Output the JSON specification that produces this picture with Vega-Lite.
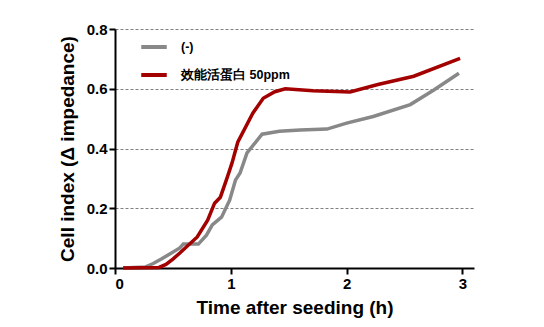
{
  "$schema": "https://vega.github.io/schema/vega-lite/v6.json",
  "width": 359,
  "height": 239,
  "autosize": {"type": "none"},
  "padding": {"left": 115, "top": 29, "right": 70, "bottom": 59},
  "background": "white",
  "config": {
    "view": {"stroke": null},
    "font": "Liberation Sans"
  },
  "data": {
    "values": [
      {"s": "(-)", "t": 0.07, "v": 0.0},
      {"s": "(-)", "t": 0.26, "v": 0.003},
      {"s": "(-)", "t": 0.33, "v": 0.015},
      {"s": "(-)", "t": 0.4, "v": 0.03},
      {"s": "(-)", "t": 0.56, "v": 0.067},
      {"s": "(-)", "t": 0.59, "v": 0.08},
      {"s": "(-)", "t": 0.72, "v": 0.08},
      {"s": "(-)", "t": 0.79, "v": 0.11},
      {"s": "(-)", "t": 0.84, "v": 0.144},
      {"s": "(-)", "t": 0.92, "v": 0.17},
      {"s": "(-)", "t": 0.99, "v": 0.227},
      {"s": "(-)", "t": 1.04, "v": 0.294},
      {"s": "(-)", "t": 1.08, "v": 0.318},
      {"s": "(-)", "t": 1.14, "v": 0.385},
      {"s": "(-)", "t": 1.27, "v": 0.448},
      {"s": "(-)", "t": 1.42, "v": 0.458},
      {"s": "(-)", "t": 1.6, "v": 0.462},
      {"s": "(-)", "t": 1.83, "v": 0.465},
      {"s": "(-)", "t": 2.0, "v": 0.485},
      {"s": "(-)", "t": 2.23, "v": 0.507},
      {"s": "(-)", "t": 2.55, "v": 0.547},
      {"s": "(-)", "t": 2.75, "v": 0.595},
      {"s": "(-)", "t": 2.97, "v": 0.652},
      {"s": "效能活蛋白 50ppm", "t": 0.07, "v": 0.0},
      {"s": "效能活蛋白 50ppm", "t": 0.38, "v": 0.002},
      {"s": "效能活蛋白 50ppm", "t": 0.44, "v": 0.012},
      {"s": "效能活蛋白 50ppm", "t": 0.5, "v": 0.03},
      {"s": "效能活蛋白 50ppm", "t": 0.56, "v": 0.05},
      {"s": "效能活蛋白 50ppm", "t": 0.71, "v": 0.104},
      {"s": "效能活蛋白 50ppm", "t": 0.8, "v": 0.16},
      {"s": "效能活蛋白 50ppm", "t": 0.86, "v": 0.217},
      {"s": "效能活蛋白 50ppm", "t": 0.91, "v": 0.237},
      {"s": "效能活蛋白 50ppm", "t": 0.97, "v": 0.304},
      {"s": "效能活蛋白 50ppm", "t": 1.01, "v": 0.351},
      {"s": "效能活蛋白 50ppm", "t": 1.06, "v": 0.421},
      {"s": "效能活蛋白 50ppm", "t": 1.19, "v": 0.518},
      {"s": "效能活蛋白 50ppm", "t": 1.28, "v": 0.568},
      {"s": "效能活蛋白 50ppm", "t": 1.38, "v": 0.59},
      {"s": "效能活蛋白 50ppm", "t": 1.47, "v": 0.6},
      {"s": "效能活蛋白 50ppm", "t": 1.71, "v": 0.593},
      {"s": "效能活蛋白 50ppm", "t": 2.03, "v": 0.589},
      {"s": "效能活蛋白 50ppm", "t": 2.27, "v": 0.614},
      {"s": "效能活蛋白 50ppm", "t": 2.58, "v": 0.642},
      {"s": "效能活蛋白 50ppm", "t": 2.98, "v": 0.702}
    ]
  },
  "mark": {"type": "line", "strokeWidth": 3.5, "interpolate": "linear", "clip": false},
  "encoding": {
    "x": {
      "field": "t", "type": "quantitative",
      "scale": {"domain": [0, 3.1], "nice": false, "zero": true},
      "axis": {
        "title": "Time after seeding (h)",
        "values": [0, 1, 2, 3],
        "format": "d",
        "grid": false,
        "domainColor": "black", "domainWidth": 2,
        "tickColor": "black", "tickWidth": 2, "tickSize": 6,
        "labelFont": "Liberation Sans", "labelFontWeight": "bold", "labelFontSize": 15, "labelColor": "black",
        "labelPadding": 2,
        "titleFont": "Liberation Sans", "titleFontWeight": "bold", "titleFontSize": 19, "titleColor": "black",
        "titlePadding": 7
      }
    },
    "y": {
      "field": "v", "type": "quantitative",
      "scale": {"domain": [0, 0.8], "nice": false},
      "axis": {
        "title": "Cell index (Δ impedance)",
        "values": [0, 0.2, 0.4, 0.6, 0.8],
        "format": ".1f",
        "grid": true, "gridColor": "#808080", "gridDash": [3, 2], "gridWidth": 1,
        "domainColor": "black", "domainWidth": 2,
        "tickColor": "black", "tickWidth": 2, "tickSize": 6,
        "labelFont": "Liberation Sans", "labelFontWeight": "bold", "labelFontSize": 15, "labelColor": "black",
        "labelPadding": 2,
        "titleFont": "Liberation Sans", "titleFontWeight": "bold", "titleFontSize": 19, "titleColor": "black",
        "titlePadding": 9
      }
    },
    "color": {
      "field": "s", "type": "nominal",
      "scale": {"domain": ["(-)", "效能活蛋白 50ppm"], "range": ["#888888", "#a30000"]},
      "legend": {
        "title": null,
        "orient": "none", "legendX": 24, "legendY": 3,
        "symbolType": "stroke", "symbolSize": 650, "symbolStrokeWidth": 4,
        "labelFont": "Liberation Sans", "labelFontWeight": "bold", "labelFontSize": 12.5, "labelColor": "black",
        "labelOffset": 12,
        "rowPadding": 5
      }
    }
  }
}
